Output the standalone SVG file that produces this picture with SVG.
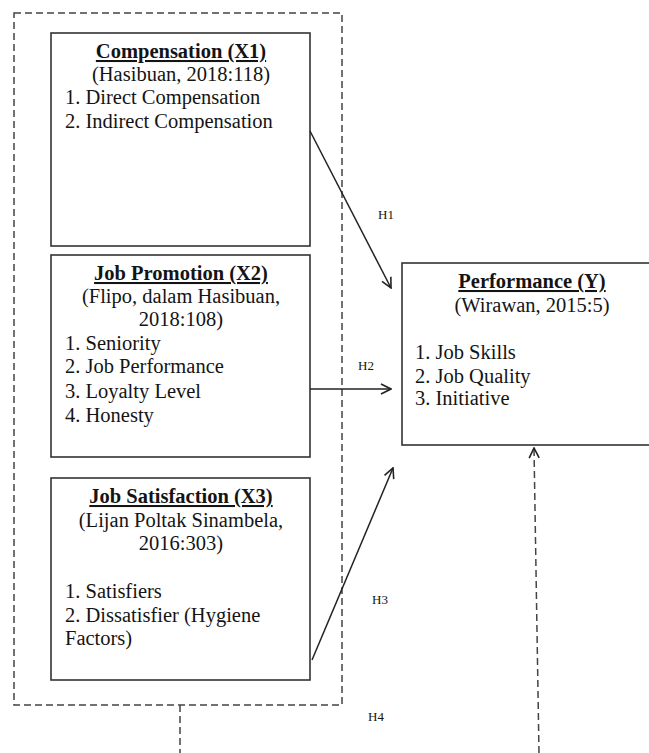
<svg xmlns="http://www.w3.org/2000/svg" width="649" height="753" viewBox="0 0 649 753">
<style>
text{font-family:"Liberation Serif","Times New Roman",serif;fill:#141414;font-size:20.5px}
.t{font-weight:bold;text-decoration:underline;text-anchor:middle}
.c{text-anchor:middle}
.h{font-size:13px}
.box{fill:#fff;stroke:#333;stroke-width:1.6}
.dash{fill:none;stroke:#444;stroke-width:1.5;stroke-dasharray:7 4}
.arr{fill:none;stroke:#222;stroke-width:1.5}
</style>
<defs>
<marker id="ah" viewBox="0 0 12 12" refX="11" refY="6" markerWidth="12" markerHeight="12" markerUnits="userSpaceOnUse" orient="auto">
<path d="M1,1 L11,6 L1,11" fill="none" stroke="#222" stroke-width="1.6"/>
</marker>
</defs>
<rect id="group" class="dash" x="14" y="13" width="328" height="692"/>
<g id="x1">
<rect class="box" x="51" y="33" width="259" height="213"/>
<text class="t" x="181" y="58">Compensation (X1)</text>
<text class="c" x="181" y="81">(Hasibuan, 2018:118)</text>
<text x="65" y="104">1. Direct Compensation</text>
<text x="65" y="128">2. Indirect Compensation</text>
</g>
<g id="x2">
<rect class="box" x="51" y="255" width="259" height="202"/>
<text class="t" x="181" y="280">Job Promotion (X2)</text>
<text class="c" x="181" y="303">(Flipo, dalam Hasibuan,</text>
<text class="c" x="181" y="326">2018:108)</text>
<text x="65" y="350">1. Seniority</text>
<text x="65" y="373">2. Job Performance</text>
<text x="65" y="398">3. Loyalty Level</text>
<text x="65" y="422">4. Honesty</text>
</g>
<g id="x3">
<rect class="box" x="51" y="478" width="259" height="202"/>
<text class="t" x="181" y="503">Job Satisfaction (X3)</text>
<text class="c" x="181" y="527">(Lijan Poltak Sinambela,</text>
<text class="c" x="181" y="550">2016:303)</text>
<text x="65" y="598">1. Satisfiers</text>
<text x="65" y="622">2. Dissatisfier (Hygiene</text>
<text x="65" y="645">Factors)</text>
</g>
<g id="y">
<rect class="box" x="402" y="263" width="260" height="182"/>
<text class="t" x="532" y="288">Performance (Y)</text>
<text class="c" x="532" y="312">(Wirawan, 2015:5)</text>
<text x="415" y="359">1. Job Skills</text>
<text x="415" y="383">2. Job Quality</text>
<text x="415" y="405">3. Initiative</text>
</g>
<g id="connectors">
<line class="arr" x1="310" y1="131" x2="391" y2="288" marker-end="url(#ah)"/>
<line class="arr" x1="310" y1="389" x2="391" y2="389" marker-end="url(#ah)"/>
<line class="arr" x1="312" y1="660" x2="393" y2="468" marker-end="url(#ah)"/>
<line class="dash" x1="180" y1="705" x2="180" y2="753"/>
<line class="dash" x1="539" y1="753" x2="534" y2="448" marker-end="url(#ah)"/>
<text class="h" x="378" y="219">H1</text>
<text class="h" x="358" y="370">H2</text>
<text class="h" x="372" y="604">H3</text>
<text class="h" x="368" y="721">H4</text>
</g>
</svg>
